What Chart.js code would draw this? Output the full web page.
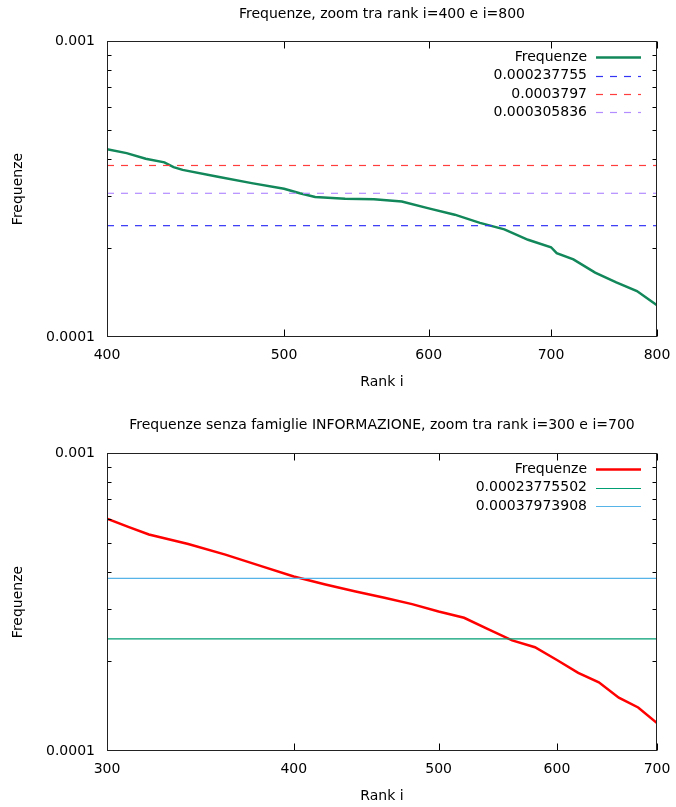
<!DOCTYPE html>
<html>
<head>
<meta charset="utf-8">
<title>Frequenze zoom</title>
<script src="https://cdn.jsdelivr.net/npm/chart.js@4/dist/chart.umd.min.js"></script>
<style>
  body { margin: 0; background: #fff; }
  .panel { position: absolute; left: 0; width: 676px; }
</style>
</head>
<body>
<div class="panel" style="top:0;height:400px"><canvas id="top" width="676" height="400"></canvas></div>
<div class="panel" style="top:400px;height:407px"><canvas id="bottom" width="676" height="407"></canvas></div>
<script>
// ---- data: top panel (rank 400..800)
const ranksTop = [400,410,420,430,435,440,460,480,500,510,520,540,560,580,600,620,640,660,680,700,705,720,740,760,780,800]
const freqTop  = [0.000431,0.000418,0.000400,0.000389,0.000375,0.000367,0.000348,0.000331,0.000317,0.000306,0.000297,0.000293,0.000292,0.000287,0.000272,0.000259,0.000243,0.000231,0.000213,0.000201,0.000192,0.000183,0.000165,0.000153,0.000143,0.000128]
const levelsTop = [0.000237755, 0.0003797, 0.000305836]
const levelLabelsTop = ['0.000237755', '0.0003797', '0.000305836']
const xTicksTop = [400,500,600,700,800]

// ---- data: bottom panel (rank 300..700, senza famiglie INFORMAZIONE)
const ranksBot = [300,310,320,340,360,380,400,420,440,460,480,500,520,540,560,580,600,620,640,660,680,700]
const freqBot  = [0.000602,0.000565,0.000533,0.000495,0.000456,0.000418,0.000385,0.000362,0.000343,0.000327,0.000311,0.000294,0.000280,0.000256,0.000235,0.000223,0.000202,0.000183,0.000170,0.000151,0.000140,0.000124]
const levelsBot = [0.00023775502, 0.00037973908]
const levelLabelsBot = ['0.00023775502', '0.00037973908']
const xTicksBot = [300,400,500,600,700]

const yTicks = [0.0001, 0.001]
const yMinor = [0.0002,0.0003,0.0004,0.0005,0.0006,0.0007,0.0008,0.0009]

const FONT = "'DejaVu Sans', 'Liberation Sans', sans-serif"

// gnuplot-like frame: full border, ticks pointing inwards on all four sides
const framePlugin = {
  id: 'frame',
  afterDatasetsDraw(chart) {
    const {ctx, chartArea: a, scales: {x, y}} = chart
    const L = Math.round(a.left) + 0.5, R = Math.round(a.right) - 0.5
    const T = Math.round(a.top) + 0.5, B = Math.round(a.bottom) - 0.5
    ctx.save()
    ctx.strokeStyle = '#000'
    ctx.lineWidth = 1
    ctx.beginPath()
    for (const v of chart.options.plugins.frame.xTicks) {
      const px = Math.round(x.getPixelForValue(v)) + 0.5
      ctx.moveTo(px, B); ctx.lineTo(px, B - 7)
      ctx.moveTo(px, T); ctx.lineTo(px, T + 7)
    }
    for (const v of yMinor) {
      const py = Math.round(y.getPixelForValue(v)) + 0.5
      ctx.moveTo(L, py); ctx.lineTo(L + 4, py)
      ctx.moveTo(R, py); ctx.lineTo(R - 4, py)
    }
    ctx.stroke()
    ctx.strokeStyle = '#222'
    ctx.strokeRect(L, T, R - L, B - T)
    ctx.restore()
  }
}

// legend inside plot, text right-aligned followed by line sample (gnuplot style)
const keyPlugin = {
  id: 'key',
  afterDraw(chart) {
    const {ctx, chartArea: a} = chart
    const o = chart.options.plugins.key
    ctx.save()
    ctx.font = '14px ' + FONT
    ctx.textAlign = 'right'
    ctx.textBaseline = 'middle'
    chart.data.datasets.forEach((ds, i) => {
      const yy = a.top + o.top + i * o.row
      ctx.fillStyle = '#000'
      ctx.fillText(ds.label, a.right - 70, yy)
      ctx.strokeStyle = ds.borderColor
      ctx.lineWidth = ds.borderWidth
      ctx.setLineDash(ds.borderDash || [])
      ctx.beginPath()
      ctx.moveTo(a.right - 61, Math.round(yy) + 0.5)
      ctx.lineTo(a.right - 16, Math.round(yy) + 0.5)
      ctx.stroke()
    })
    ctx.restore()
  }
}

function xy(xs, ys){ return xs.map((v, i) => ({x: v, y: ys[i]})) }
function flat(level, xs){ return [{x: xs[0], y: level}, {x: xs[xs.length - 1], y: level}] }

function makeChart(id, cfg){
  const datasets = [{
    label: 'Frequenze', data: xy(cfg.ranks, cfg.freq),
    borderColor: cfg.color, borderWidth: 2.5, pointRadius: 0, tension: 0, order: 1
  }]
  cfg.levels.forEach((lv, i) => datasets.push({
    label: cfg.levelLabels[i], data: flat(lv, cfg.xTicks),
    borderColor: cfg.levelColors[i], borderWidth: cfg.levelWidth, borderDash: cfg.dash,
    pointRadius: 0, order: 0
  }))
  return new Chart(document.getElementById(id), {
    type: 'line',
    data: { datasets },
    options: {
      responsive: false, animation: false, events: [],
      layout: { autoPadding: false, padding: { left: 0, right: 19, top: 0, bottom: 0 } },
      plugins: {
        legend: { display: false }, tooltip: { enabled: false },
        title: { display: true, fullSize: false, text: cfg.title, color: '#000',
          font: { family: FONT, size: 14, weight: 'normal' },
          padding: { top: cfg.titleTop, bottom: cfg.titleBottom } },
        frame: { xTicks: cfg.xTicks },
        key: { top: 16.3, row: 18.3 }
      },
      scales: {
        x: {
          type: 'logarithmic', min: cfg.xTicks[0], max: cfg.xTicks[cfg.xTicks.length - 1],
          afterBuildTicks: s => { s.ticks = cfg.xTicks.map(v => ({value: v})) },
          afterFit: s => { s.height = cfg.xAxisH; s.paddingLeft = 0; s.paddingRight = 0 },
          grid: { display: false, drawTicks: false }, border: { display: false },
          ticks: { color: '#000', padding: 10, maxRotation: 0, autoSkip: false,
            font: { family: FONT, size: 14 }, callback: v => String(v) },
          title: { display: true, text: 'Rank i', color: '#000',
            font: { family: FONT, size: 14 }, padding: { top: 0, bottom: cfg.xTitleBottom } }
        },
        y: {
          type: 'logarithmic', min: yTicks[0], max: yTicks[1],
          afterBuildTicks: s => { s.ticks = yTicks.map(v => ({value: v})) },
          afterFit: s => { s.width = 107; s.paddingTop = 0; s.paddingBottom = 0 },
          grid: { display: false, drawTicks: false }, border: { display: false },
          ticks: { color: '#000', padding: 12, autoSkip: false,
            font: { family: FONT, size: 14 }, callback: v => String(v) },
          title: { display: true, text: 'Frequenze', color: '#000',
            font: { family: FONT, size: 14 }, padding: { top: 9.6, bottom: 0 } }
        }
      }
    },
    plugins: [framePlugin, keyPlugin]
  })
}

makeChart('top', {
  title: 'Frequenze, zoom tra rank i=400 e i=800',
  ranks: ranksTop, freq: freqTop, color: '#11875a',
  levels: levelsTop, levelLabels: levelLabelsTop,
  levelColors: ['#3434f5', '#ff3d3d', '#b38cff'], levelWidth: 1.2, dash: [7, 7],
  xTicks: xTicksTop, titleTop: 5.6, titleBottom: 18.6, xAxisH: 63, xTitleBottom: 9.6
})

makeChart('bottom', {
  title: 'Frequenze senza famiglie INFORMAZIONE, zoom tra rank i=300 e i=700',
  ranks: ranksBot, freq: freqBot, color: '#ff0000',
  levels: levelsBot, levelLabels: levelLabelsBot,
  levelColors: ['#009e73', '#56b4e9'], levelWidth: 1.2, dash: [],
  xTicks: xTicksBot, titleTop: 16.6, titleBottom: 19.6, xAxisH: 56, xTitleBottom: 2.6
})
</script>
</body>
</html>
